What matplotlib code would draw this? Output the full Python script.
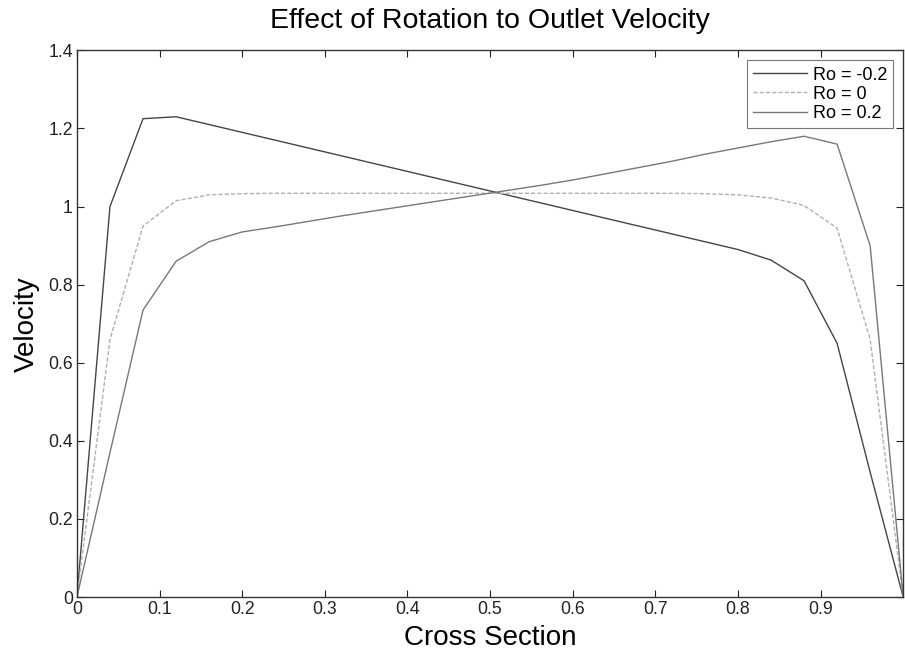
import matplotlib
matplotlib.use('Agg')
import matplotlib.pyplot as plt
import numpy as np

plt.rcParams['font.family'] = ['Liberation Sans', 'DejaVu Sans']

# Data
cross_section = [0.00, 0.04, 0.08, 0.12, 0.16, 0.20, 0.24, 0.28, 0.32, 0.36,
                 0.40, 0.44, 0.48, 0.52, 0.56, 0.60, 0.64, 0.68, 0.72, 0.76,
                 0.80, 0.84, 0.88, 0.92, 0.96, 1.00]
vel_ro_m02 = [0.00, 1.00, 1.225, 1.23, 1.21, 1.19, 1.17, 1.15, 1.13, 1.11,
              1.09, 1.07, 1.05, 1.03, 1.01, 0.99, 0.97, 0.95, 0.93, 0.91,
              0.89, 0.863, 0.81, 0.65, 0.32, 0.00]
vel_ro_0 = [0.00, 0.66, 0.95, 1.015, 1.03, 1.033, 1.034, 1.034, 1.034, 1.034,
            1.034, 1.034, 1.034, 1.034, 1.034, 1.034, 1.034, 1.034, 1.034, 1.033,
            1.03, 1.022, 1.003, 0.945, 0.66, 0.00]
vel_ro_02 = [0.00, 0.37, 0.735, 0.86, 0.91, 0.935, 0.948, 0.962, 0.976, 0.989,
             1.002, 1.015, 1.028, 1.041, 1.054, 1.068, 1.084, 1.10, 1.116, 1.134,
             1.15, 1.166, 1.18, 1.16, 0.90, 0.00]
labels = ['Ro = -0.2', 'Ro = 0', 'Ro = 0.2']


def create_outlet_velocity_chart():
    fig = plt.figure(figsize=(9.05, 6.54), dpi=100)
    ax = fig.add_axes([0.085, 0.087, 0.913, 0.836])

    ax.plot(cross_section, vel_ro_m02, color='#454545', linewidth=1.0, label=labels[0])
    ax.plot(cross_section, vel_ro_0, color='#b0b0b0', linewidth=1.0,
            linestyle=(0, (3, 1.5)), label=labels[1])
    ax.plot(cross_section, vel_ro_02, color='#787878', linewidth=1.0, label=labels[2])

    ax.set_xlim(0, 1)
    ax.set_ylim(0, 1.4)
    ax.set_xticks(np.arange(0, 0.95, 0.1))
    ax.set_xticklabels(['0', '0.1', '0.2', '0.3', '0.4', '0.5', '0.6', '0.7', '0.8', '0.9'])
    ax.set_yticks(np.arange(0, 1.45, 0.2))
    ax.set_yticklabels(['0', '0.2', '0.4', '0.6', '0.8', '1', '1.2', '1.4'])
    ax.tick_params(direction='in', top=True, right=True, length=5, width=0.8,
                   labelsize=12.7, colors='#222222', pad=3)

    for spine in ax.spines.values():
        spine.set_color('#333333')
        spine.set_linewidth(1.0)

    ax.set_xlabel('Cross Section', fontsize=20, labelpad=5)
    ax.set_ylabel('Velocity', fontsize=20, labelpad=6)
    ax.set_title('Effect of Rotation to Outlet Velocity', fontsize=20.5, pad=16)

    leg = ax.legend(loc='upper right', fontsize=13, frameon=True, fancybox=False,
                    edgecolor='#555555', handlelength=3.0, handletextpad=0.3,
                    labelspacing=0.12, borderpad=0.35, borderaxespad=0.55)
    leg.get_frame().set_linewidth(0.8)

    fig.savefig('out.png', dpi=100)


if __name__ == "__main__":
    create_outlet_velocity_chart()
